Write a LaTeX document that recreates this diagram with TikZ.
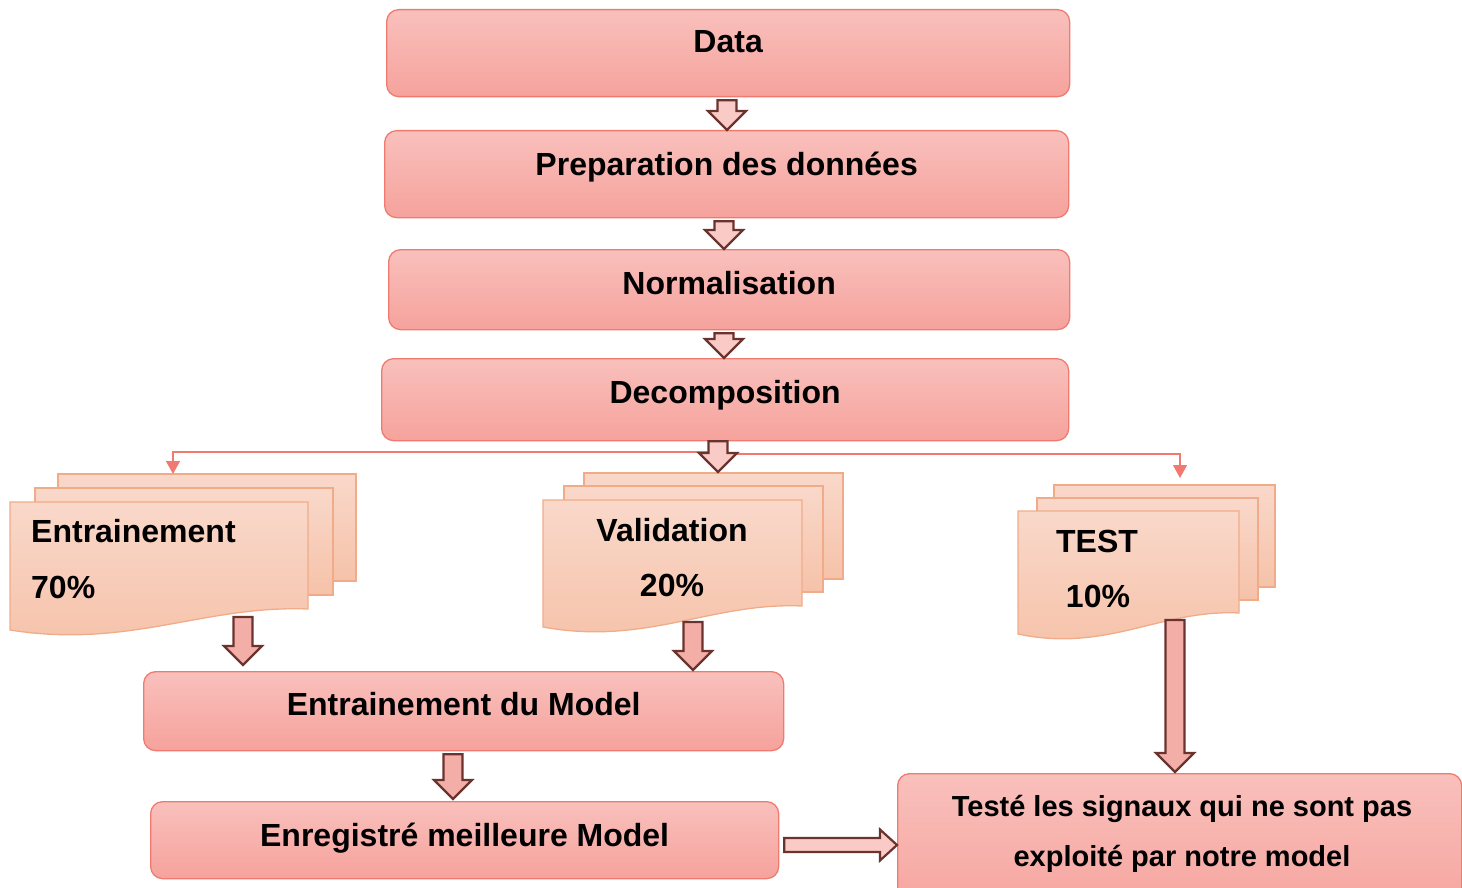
\documentclass[tikz,border=0pt]{standalone}
\usepackage{fontspec}
\setmainfont{Liberation Sans}
\usetikzlibrary{arrows.meta,calc}

\definecolor{boxtop}{HTML}{F9C0BC}
\definecolor{boxbot}{HTML}{F6A29C}
\definecolor{boxline}{HTML}{EF7B70}
\definecolor{doctop}{HTML}{F9D8CA}
\definecolor{docbot}{HTML}{F6C2A9}
\definecolor{docline}{HTML}{F0AC88}
\definecolor{arrowline}{HTML}{6B332E}
\definecolor{arrowlight}{HTML}{F9CAC6}
\definecolor{arrowmid}{HTML}{F4AEA8}
\definecolor{linkred}{HTML}{F07A6F}

\tikzset{
  stepbox/.style={draw=boxline, line width=1.3pt, rounded corners=12pt,
    top color=boxtop, bottom color=boxbot, anchor=north west,
    inner xsep=0pt, inner ysep=0pt, align=center,
    font=\bfseries\fontsize{32}{38}\selectfont},
  docsheet/.style={draw=docline, line width=1.3pt, top color=doctop, bottom color=docbot},
  doctext/.style={inner sep=0pt, font=\bfseries\fontsize{32}{38}\selectfont},
  blockarrow/.style={draw=arrowline, line width=2.2pt, line join=miter},
  link/.style={draw=linkred, line width=1.3pt, -{Triangle[width=14pt,length=13pt]}}
}

% vertical block arrow from #1 down to the tip #2, filled with #3
\newcommand\blockdown[3]{%
  \draw[blockarrow, fill=#3] let \p1=(#1), \p2=(#2) in
    (\x1-9.5pt,\y1-3pt) -- (\x1+9.5pt,\y1-3pt) -- (\x1+9.5pt,\y2+19pt)
    -- (\x1+19pt,\y2+19pt) -- (\x1,\y2) -- (\x1-19pt,\y2+19pt)
    -- (\x1-9.5pt,\y2+19pt) -- cycle;}

% horizontal block arrow from #1 to the tip #2, filled with #3
\newcommand\blockright[3]{%
  \draw[blockarrow, fill=#3] let \p1=(#1), \p2=(#2) in
    (\x1+5pt,\y1+7pt) -- (\x2-17pt,\y1+7pt) -- (\x2-17pt,\y1+15.5pt)
    -- (\x2,\y1) -- (\x2-17pt,\y1-15.5pt) -- (\x2-17pt,\y1-7pt)
    -- (\x1+5pt,\y1-7pt) -- cycle;}

% stack of three sheets: #1,#2 front top-left, #3 width, #4 height,
% #5,#6 middle sheet offset, #7,#8 back sheet offset
\newcommand\docstack[8]{%
  \path[docsheet] (#1+#7,#2-#8) rectangle (#1+#7+#3,#2-#8+#4);
  \path[docsheet] (#1+#5,#2-#6) rectangle (#1+#5+#3,#2-#6+#4);
  \path[docsheet] (#1,#2) -- (#1+#3,#2) -- (#1+#3,#2+#4)
    .. controls (#1+0.65*#3,#2+#4-4) and (#1+0.4*#3,#2+#4+40) .. (#1,#2+#4+21)
    -- cycle;}

\begin{document}
\begin{tikzpicture}[x=1pt,y=-1pt]
\useasboundingbox (0,0) rectangle (1462,888);

% processing steps
\node[stepbox, minimum width=683pt, text height=43pt, text depth=44pt] (data) at (386,9) {Data};
\node[stepbox, minimum width=684pt, text height=45pt, text depth=42pt] (prep) at (384,130) {Preparation des données};
\node[stepbox, minimum width=681pt, text height=45pt, text depth=35pt] (norm) at (388,249) {Normalisation};
\node[stepbox, minimum width=687pt, text height=45pt, text depth=37pt] (dec) at (381,358) {Decomposition};
\node[stepbox, minimum width=640pt, text height=44pt, text depth=35pt] (model) at (143,671) {Entrainement du Model};
\node[stepbox, minimum width=628pt, text height=45pt, text depth=32pt] (best) at (150,801) {Enregistré meilleure Model};
\node[stepbox, minimum width=564pt, minimum height=150pt] (testbox) at (897,773) {};
\node[inner sep=0pt, align=center, font=\bfseries\fontsize{29}{50}\selectfont] (testtxt) at (1182,834)
  {Testé les signaux qui ne sont pas\\exploité par notre model};

% data split into three sets
\docstack{10}{502}{298}{107}{25}{14}{48}{28}
\docstack{543}{500}{259}{106}{21}{14}{41}{27}
\docstack{1018}{511}{221}{102}{19}{13}{36}{26}

\node[doctext, anchor=base west] (traintitle) at (31,542) {Entrainement};
\node[doctext, anchor=base west] (trainpct) at (31,598) {70\%};
\node[doctext, anchor=base] (valtitle) at (672,541) {Validation};
\node[doctext, anchor=base] (valpct) at (672,596) {20\%};
\node[doctext, anchor=base] (testtitle) at (1097,552) {TEST};
\node[doctext, anchor=base] (testpct) at (1098,607) {10\%};

% split connectors
\coordinate (splitL) at (720,452);
\coordinate (splitR) at (736,454);
\coordinate (trainin) at (173,474);
\coordinate (testin) at (1180,478);
\draw[link] (splitL) -| (trainin);
\draw[link] (splitR) -| (testin);

% flow arrows
\coordinate (valin) at (718,472);
\coordinate (trainout) at (243,614);
\coordinate (valout) at (693,619);
\coordinate (testout) at (1175,617);
\blockdown{727,0 |- data.south}{727,0 |- prep.north}{arrowlight}
\blockdown{724,0 |- prep.south}{724,0 |- norm.north}{arrowlight}
\blockdown{724,0 |- norm.south}{724,0 |- dec.north}{arrowlight}
\blockdown{$(718,0 |- dec.south)+(0,-3)$}{valin}{arrowlight}
\blockdown{trainout}{$(243,0 |- model.north)+(0,-6)$}{arrowmid}
\blockdown{valout}{$(693,0 |- model.north)+(0,-1)$}{arrowmid}
\blockdown{testout}{$(1175,0 |- testbox.north)+(0,-1)$}{arrowmid}
\blockdown{453,0 |- model.south}{$(453,0 |- best.north)+(0,-2)$}{arrowmid}
\blockright{best.east |- 0,845}{testbox.west |- 0,845}{arrowlight}
\end{tikzpicture}
\end{document}
